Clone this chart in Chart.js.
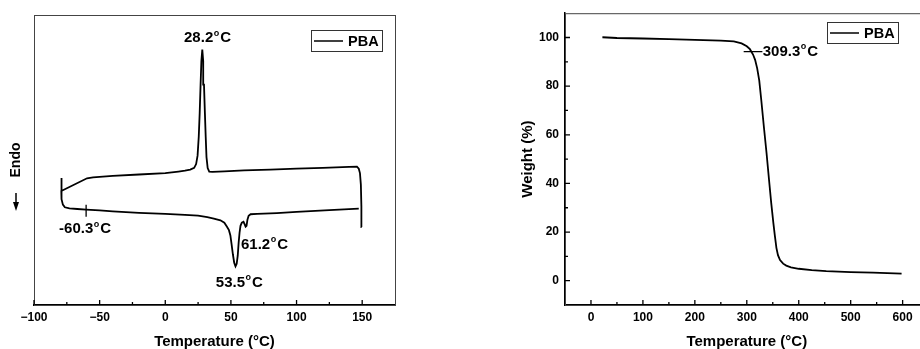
<!DOCTYPE html>
<html>
<head>
<meta charset="utf-8">
<script src="https://cdn.jsdelivr.net/npm/chart.js@4.4.1/dist/chart.umd.min.js"></script>
<style>
  html, body { margin: 0; padding: 0; background: #fff; overflow: hidden; width: 920px; height: 349px; }
  canvas { position: absolute; top: 0; }
</style>
</head>
<body>
<canvas id="dsc" width="420" height="349" style="left:0"></canvas>
<canvas id="tga" width="500" height="349" style="left:460px"></canvas>
<script>
var FONT = "'Liberation Sans', Arial, sans-serif";
Chart.defaults.font.family = FONT;
Chart.defaults.font.weight = 'bold';
Chart.defaults.color = '#000';

// ---- DSC: cooling run (150 -> -80 C) then heating run (-80 -> 150 C), heat flow in a.u.
var COOL_T  = [149.6, 149.4, 149.0, 148.3, 147.4, 146.0, 140, 120, 100, 80, 60, 45, 36, 33.5, 32.3, 31.4,
               30.8, 30.2, 29.5, 28.9, 28.2, 27.5, 26.9, 26.2, 25.5, 24.6, 23.5, 22, 19, 15, 10, 0, -20, -40, -55, -59.6, -79.2];
var COOL_HF = [26.9, 34.0, 41.5, 45.5, 47.0, 47.7, 47.6, 47.3, 47.0, 46.7, 46.4, 46.1, 45.9, 46.0, 47.2, 51.0,
               58.0, 66.0, 76.0, 84.0, 88.1, 84.0, 76.0, 66.0, 58.0, 51.5, 48.6, 47.3, 46.7, 46.3, 46.0, 45.5, 45.0, 44.5, 44.0, 43.7, 39.3];
var HEAT_T  = [-79.2, -79.1, -78.8, -78.0, -76.5, -73, -67, -60.3, -50, -40, -20, 0, 15, 25, 32, 37, 42, 45, 47, 48.5,
               49.6, 50.5, 51.5, 52.5, 53.5, 54.4, 55.2, 55.9, 56.6, 57.3, 58.3, 59.6, 60.5, 61.2, 61.9, 62.6, 63.5, 65, 70, 85, 100, 125, 147.4];
var HEAT_HF = [43.8, 39.3, 36.5, 34.6, 33.7, 33.3, 33.1, 32.9, 32.6, 32.3, 31.8, 31.4, 31.1, 30.8, 30.3, 29.8, 29.2, 28.4, 27.0, 25.8,
               24.0, 21.0, 17.5, 14.6, 13.3, 14.2, 17.0, 21.5, 25.0, 27.3, 28.4, 28.7, 27.8, 27.0, 27.3, 29.4, 30.8, 31.3, 31.4, 31.7, 32.1, 32.7, 33.2];
var TG_T = -60.3;
var TG_MARK = [34.6, 30.4];
var DSC_X_TICKS = [-100, -50, 0, 50, 100, 150];
var DSC_X_MINOR = [-75, -25, 25, 75, 125];
var DSC_NOTES = [
  { x: 32.2, y: 92.0, text: '28.2°C', align: 'center' },
  { x: -61.1, y: 26.1, text: '-60.3°C', align: 'center' },
  { x: 75.6, y: 20.7, text: '61.2°C', align: 'center' },
  { x: 56.4, y: 7.7, text: '53.5°C', align: 'center' }
];

// ---- TGA: weight loss curve
var TGA_T = [22, 50, 100, 150, 200, 250, 275, 290, 300, 306, 312, 316, 320, 324, 328, 333, 338, 343, 347, 351, 354,
             357, 360, 364, 370, 376, 385, 400, 425, 453, 500, 543, 598];
var TGA_W = [100.1, 99.8, 99.6, 99.3, 99.0, 98.7, 98.4, 97.6, 96.4, 95.2, 93.0, 90.8, 87.3, 82.3, 74.0, 63.0, 52.5, 41.0, 32.0, 24.0, 18.5,
             13.5, 10.5, 8.5, 7.0, 6.2, 5.5, 4.9, 4.3, 3.9, 3.5, 3.3, 2.9];
var T5_T = [294, 330];
var T5_W = 94.2;
var TGA_X_TICKS = [0, 100, 200, 300, 400, 500, 600];
var TGA_X_MINOR = [50, 150, 250, 350, 450, 550];
var TGA_Y_TICKS = [0, 20, 40, 60, 80, 100];
var TGA_Y_MINOR = [10, 30, 50, 70, 90];
var TGA_NOTES = [{ x: 330.6, y: 94.0, text: '309.3°C', align: 'left' }];

function pts(xs, ys) {
  return xs.map(function (x, i) { return { x: x, y: Array.isArray(ys) ? ys[i] : ys }; });
}
function fixedTicks(list) {
  return function (scale) { scale.ticks = list.map(function (v) { return { value: v }; }); };
}
function minus(v) { return v < 0 ? '\u2212' + Math.abs(v) : String(v); }

// frame around the plot, inward major/minor ticks, optional down arrow
var frameTicks = {
  id: 'frameTicks',
  beforeDatasetsDraw: function (chart, args, o) {
    var ctx = chart.ctx, a = chart.chartArea;
    ctx.save();
    ctx.strokeStyle = '#444';
    ctx.lineWidth = 1;
    ctx.strokeRect(a.left + 0.5, a.top + 0.5, a.right - a.left, a.bottom - a.top);
    ctx.restore();
  },
  afterDraw: function (chart, args, o) {
    var ctx = chart.ctx, a = chart.chartArea;
    ctx.save();
    ctx.strokeStyle = '#000';
    ctx.lineWidth = 1.3;
    ctx.beginPath();
    (o.xMajor || []).forEach(function (v) {
      var px = chart.scales.x.getPixelForValue(v);
      ctx.moveTo(px, a.bottom); ctx.lineTo(px, a.bottom - 5);
    });
    (o.xMinor || []).forEach(function (v) {
      var px = chart.scales.x.getPixelForValue(v);
      ctx.moveTo(px, a.bottom); ctx.lineTo(px, a.bottom - 3);
    });
    (o.yMajor || []).forEach(function (v) {
      var py = chart.scales.y.getPixelForValue(v);
      ctx.moveTo(a.left, py); ctx.lineTo(a.left + 5, py);
    });
    (o.yMinor || []).forEach(function (v) {
      var py = chart.scales.y.getPixelForValue(v);
      ctx.moveTo(a.left, py); ctx.lineTo(a.left + 3, py);
    });
    ctx.stroke();
    if (o.arrow) {
      var ar = o.arrow;
      ctx.fillStyle = '#000';
      ctx.lineWidth = 1.5;
      ctx.beginPath();
      ctx.moveTo(ar.x, ar.y0); ctx.lineTo(ar.x, ar.y1 - 8);
      ctx.stroke();
      ctx.beginPath();
      ctx.moveTo(ar.x - 3, ar.y1 - 9); ctx.lineTo(ar.x + 3, ar.y1 - 9); ctx.lineTo(ar.x, ar.y1);
      ctx.closePath();
      ctx.fill();
    }
    ctx.restore();
  }
};

// boxed legend in the upper right corner of the plot
var boxLegend = {
  id: 'boxLegend',
  afterDraw: function (chart, args, o) {
    var ds = chart.data.datasets[0];
    var ctx = chart.ctx, a = chart.chartArea;
    ctx.save();
    ctx.font = 'bold ' + o.size + 'px ' + FONT;
    var tw = ctx.measureText(ds.label).width;
    var w = Math.round(3 + 29 + 5 + tw + 3.5), h = 21;
    var x0 = Math.round(a.right - o.right - w), y0 = Math.round(a.top + o.top);
    ctx.strokeStyle = '#333';
    ctx.lineWidth = 1;
    ctx.strokeRect(x0 + 0.5, y0 + 0.5, w, h);
    ctx.strokeStyle = ds.borderColor;
    ctx.lineWidth = 1.5;
    ctx.beginPath();
    ctx.moveTo(x0 + 3, y0 + h / 2 + 0.5); ctx.lineTo(x0 + 32, y0 + h / 2 + 0.5);
    ctx.stroke();
    ctx.fillStyle = '#000';
    ctx.textBaseline = 'middle';
    ctx.textAlign = 'left';
    ctx.fillText(ds.label, x0 + 37, y0 + h / 2 + 1);
    ctx.restore();
  }
};

// temperature notes, with the degree written as a raised "o"
var degNotes = {
  id: 'degNotes',
  afterDatasetsDraw: function (chart, args, o) {
    var ctx = chart.ctx, size = o.size;
    var big = 'bold ' + size + 'px ' + FONT, small = 'bold ' + Math.round(size * 0.62) + 'px ' + FONT;
    ctx.save();
    ctx.fillStyle = '#000';
    ctx.textBaseline = 'middle';
    ctx.textAlign = 'left';
    o.items.forEach(function (n) {
      var parts = n.text.split('°');
      ctx.font = big;
      var w1 = ctx.measureText(parts[0]).width, w3 = ctx.measureText(parts[1]).width;
      ctx.font = small;
      var w2 = ctx.measureText('o').width;
      var total = w1 + w2 + w3 + 1.5;
      var x = chart.scales.x.getPixelForValue(n.x), y = chart.scales.y.getPixelForValue(n.y);
      var x0 = n.align === 'left' ? x : x - total / 2;
      ctx.font = big;
      ctx.fillText(parts[0], x0, y);
      ctx.font = small;
      ctx.fillText('o', x0 + w1 + 0.5, y - size * 0.34);
      ctx.font = big;
      ctx.fillText(parts[1], x0 + w1 + w2 + 1.5, y);
    });
    ctx.restore();
  }
};

var lineStyle = { borderColor: '#000', borderWidth: 1.8, pointRadius: 0, showLine: true, fill: false, tension: 0 };

new Chart(document.getElementById('dsc'), {
  type: 'scatter',
  data: {
    datasets: [
      Object.assign({ label: 'PBA', data: pts(COOL_T, COOL_HF).concat(pts(HEAT_T, HEAT_HF)) }, lineStyle),
      Object.assign({ label: 'Tg', data: pts([TG_T, TG_T], TG_MARK) }, lineStyle, { borderWidth: 1.3 })
    ]
  },
  options: {
    responsive: false,
    animation: false,
    layout: { padding: { top: 15, right: 25, left: 0, bottom: 0 } },
    plugins: {
      legend: { display: false },
      tooltip: { enabled: false },
      frameTicks: { xMajor: DSC_X_TICKS, xMinor: DSC_X_MINOR, arrow: { x: 16, y0: 193, y1: 211 } },
      boxLegend: { size: 14.5, right: 13.3, top: 15 },
      degNotes: { size: 15, items: DSC_NOTES }
    },
    scales: {
      x: {
        type: 'linear', min: -100, max: 175,
        afterBuildTicks: fixedTicks(DSC_X_TICKS),
        afterFit: function (s) { s.height = 44; },
        grid: { display: false, drawTicks: false },
        border: { display: true, color: '#000', width: 2 },
        ticks: { padding: 5, font: { size: 12 }, callback: minus },
        title: { display: true, text: 'Temperature (°C)', font: { size: 15, lineHeight: 1 }, padding: { top: 0, bottom: 0 } }
      },
      y: {
        type: 'linear', min: 0, max: 100,
        afterFit: function (s) { s.width = 34; },
        grid: { display: false, drawTicks: false },
        border: { display: true, color: '#444', width: 1 },
        ticks: { display: false },
        title: { display: true, text: 'Endo', font: { size: 14, lineHeight: 1 }, padding: { top: 9, bottom: 0 } }
      }
    }
  },
  plugins: [frameTicks, boxLegend, degNotes]
});

new Chart(document.getElementById('tga'), {
  type: 'scatter',
  data: {
    datasets: [
      Object.assign({ label: 'PBA', data: pts(TGA_T, TGA_W) }, lineStyle),
      Object.assign({ label: 'T5', data: pts(T5_T, T5_W) }, lineStyle, { borderWidth: 1.3 })
    ]
  },
  options: {
    responsive: false,
    animation: false,
    layout: { padding: { top: 12, right: 31.4, left: 0, bottom: 0 } },
    plugins: {
      legend: { display: false },
      tooltip: { enabled: false },
      frameTicks: { xMajor: TGA_X_TICKS, xMinor: TGA_X_MINOR, yMajor: TGA_Y_TICKS, yMinor: TGA_Y_MINOR },
      boxLegend: { size: 14.5, right: 30.3, top: 8.7 },
      degNotes: { size: 15, items: TGA_NOTES }
    },
    scales: {
      x: {
        type: 'linear', min: -50, max: 650,
        afterBuildTicks: fixedTicks(TGA_X_TICKS),
        afterFit: function (s) { s.height = 44; },
        grid: { display: false, drawTicks: false },
        border: { display: true, color: '#000', width: 2 },
        ticks: { padding: 5, font: { size: 12 }, callback: minus },
        title: { display: true, text: 'Temperature (°C)', font: { size: 15, lineHeight: 1 }, padding: { top: 0, bottom: 0 } }
      },
      y: {
        type: 'linear', min: -10, max: 110,
        afterBuildTicks: fixedTicks(TGA_Y_TICKS),
        afterFit: function (s) { s.width = 105; },
        grid: { display: false, drawTicks: false },
        border: { display: true, color: '#000', width: 1.5 },
        ticks: { padding: 6, font: { size: 12 }, callback: minus },
        title: { display: true, text: 'Weight (%)', font: { size: 15, lineHeight: 1 }, padding: { top: 60, bottom: 0 } }
      }
    }
  },
  plugins: [frameTicks, boxLegend, degNotes]
});
</script>
</body>
</html>
